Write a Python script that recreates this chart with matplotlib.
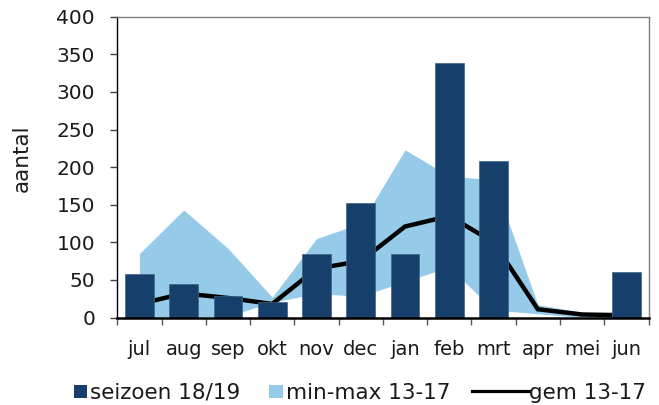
import matplotlib
matplotlib.use("Agg")
import matplotlib.pyplot as plt
from matplotlib.patches import Rectangle
from matplotlib.lines import Line2D
import numpy as np

plt.rcParams['font.family'] = ['DejaVu Sans']

months = ['jul', 'aug', 'sep', 'okt', 'nov', 'dec', 'jan', 'feb', 'mrt', 'apr', 'mei', 'jun']
seizoen = [58, 44, 29, 20, 84, 152, 85, 339, 208, 0, 0, 61]
gem = [18, 32, 26, 18, 65, 75, 121, 135, 100, 11, 4, 3]
band_max = [85, 143, 92, 27, 105, 125, 223, 188, 183, 17, 7, 3]
band_min = [0, 0, 2, 20, 32, 28, 48, 67, 10, 5, 0, 0]
yticks = [0, 50, 100, 150, 200, 250, 300, 350, 400]

c_dark = '#173F6C'
c_light = '#95CBE8'

W, H = 659, 405
fig = plt.figure(figsize=(W / 100, H / 100), dpi=100)
ax = fig.add_axes([117.3 / W, (H - 317.5) / H, (648.5 - 117.3) / W, (317.5 - 16.7) / H])

x = np.arange(len(months))
ax.fill_between(x, band_min, band_max, color=c_light, lw=0, zorder=1)
ax.plot(x, gem, color='black', lw=3.2, zorder=2, solid_joinstyle='miter')
ax.bar(x, seizoen, width=0.65, color=c_dark, edgecolor='#3f6488', linewidth=0.5, zorder=3)

ax.set_xlim(-0.5, len(months) - 0.5)
ax.set_ylim(0, 400)
ax.set_yticks(yticks)
ax.set_yticklabels([str(v) for v in yticks])
ax.tick_params(axis='y', direction='out', length=5, width=1, color='#404040', pad=11, labelsize=14.5, labelcolor='#1a1a1a')

ax.set_xticks(x)
ax.set_xticklabels(months)
ax.set_xticks(np.arange(-0.5, len(months), 1.0), minor=True)
ax.tick_params(axis='x', which='major', length=0, pad=16, labelsize=14, labelcolor='#1a1a1a')
ax.tick_params(axis='x', which='minor', direction='out', length=5, width=1, color='#555555')

for s in ['top', 'right']:
    ax.spines[s].set_color('#7f7f7f')
    ax.spines[s].set_linewidth(1.0)
ax.spines['left'].set_color('black')
ax.spines['left'].set_linewidth(1.0)
ax.spines['bottom'].set_color('black')
ax.spines['bottom'].set_linewidth(1.8)
ax.spines['bottom'].set_zorder(5)

ax.set_ylabel('aantal', fontsize=15.5, color='#1a1a1a', va='center')
ax.yaxis.set_label_coords((22 - 117.3) / (648.5 - 117.3), (317.5 - 158.5) / (317.5 - 16.7))

# legend (manual, figure coordinates)
def fx(px):
    return px / W

def fy(py):
    return (H - py) / H

fig.patches.append(Rectangle((fx(74), fy(398)), 13 / W, 13 / H, transform=fig.transFigure,
                             facecolor=c_dark, edgecolor='none'))
fig.text(fx(90.5), fy(399), 'seizoen 18/19', fontsize=15.5, color='#1a1a1a', va='baseline', ha='left')
fig.patches.append(Rectangle((fx(269), fy(398)), 14 / W, 13 / H, transform=fig.transFigure,
                             facecolor=c_light, edgecolor='none'))
fig.text(fx(286), fy(399), 'min-max 13-17', fontsize=15.5, color='#1a1a1a', va='baseline', ha='left')
fig.add_artist(Line2D([fx(472), fx(529)], [fy(391), fy(391)], transform=fig.transFigure,
                      color='black', lw=2.3))
fig.text(fx(529), fy(399), 'gem 13-17', fontsize=15.5, color='#1a1a1a', va='baseline', ha='left')

fig.savefig('out.png', dpi=100)
